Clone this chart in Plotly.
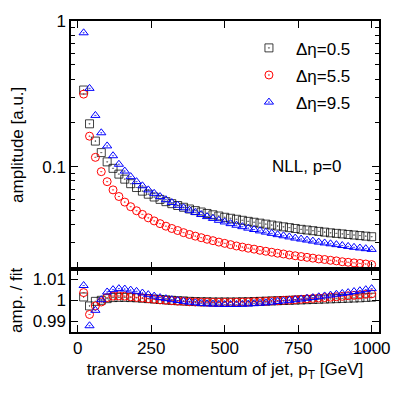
import plotly.graph_objects as go

pt = [20, 40, 60, 80, 100, 120, 140, 160, 180, 200, 220, 240, 260, 280, 300, 320, 340, 360, 380, 400,
      420, 440, 460, 480, 500, 520, 540, 560, 580, 600, 620, 640, 660, 680, 700, 720, 740, 760, 780, 800,
      820, 840, 860, 880, 900, 920, 940, 960, 980, 1000]

amp_05 = [0.336, 0.197, 0.150, 0.125, 0.108, 0.0975, 0.0890, 0.0822, 0.0765, 0.0720,
          0.0680, 0.0648, 0.0620, 0.0597, 0.0576, 0.0558, 0.0542, 0.0527, 0.0513, 0.0500,
          0.0489, 0.0478, 0.0468, 0.0459, 0.0450, 0.0443, 0.0436, 0.0429, 0.0422, 0.0416,
          0.0410, 0.0404, 0.0398, 0.0392, 0.0387, 0.0382, 0.0377, 0.0372, 0.0368, 0.0364,
          0.0360, 0.0356, 0.0352, 0.0349, 0.0346, 0.0343, 0.0340, 0.0337, 0.0334, 0.0331]

amp_55 = [0.315, 0.162, 0.116, 0.0925, 0.079, 0.0694, 0.0625, 0.0572, 0.0532, 0.0499,
          0.0471, 0.0446, 0.0425, 0.0407, 0.0391, 0.0377, 0.0365, 0.0353, 0.0343, 0.0334,
          0.0326, 0.0318, 0.0311, 0.0304, 0.0298, 0.0292, 0.0286, 0.0281, 0.0276, 0.0272,
          0.0267, 0.0263, 0.0259, 0.0255, 0.0252, 0.0248, 0.0245, 0.0242, 0.0239, 0.0236,
          0.0233, 0.0231, 0.0228, 0.0226, 0.0223, 0.0221, 0.0219, 0.0217, 0.0215, 0.0213]

amp_95 = [0.83, 0.345, 0.225, 0.171, 0.139, 0.119, 0.104, 0.0934, 0.0855, 0.0790,
          0.0740, 0.0694, 0.0657, 0.0624, 0.0594, 0.0568, 0.0544, 0.0523, 0.0503, 0.0486,
          0.0470, 0.0455, 0.0442, 0.0429, 0.0418, 0.0407, 0.0397, 0.0388, 0.0379, 0.0371,
          0.0363, 0.0356, 0.0349, 0.0342, 0.0336, 0.0330, 0.0324, 0.0319, 0.0314, 0.0309,
          0.0304, 0.0300, 0.0296, 0.0292, 0.0288, 0.0284, 0.0280, 0.0277, 0.0274, 0.0271]

ratio_05 = [1.0016, 0.9973, 0.9995, 1.0000, 1.0008, 1.0013, 1.0014, 1.0014, 1.0013, 1.0012,
            1.0010, 1.0008, 1.0006, 1.0004, 1.0002, 1.0000, 0.9998, 0.9997, 0.9995, 0.9994,
            0.9993, 0.9993, 0.9992, 0.9992, 0.9992, 0.9992, 0.9992, 0.9993, 0.9993, 0.9994,
            0.9995, 0.9996, 0.9997, 0.9998, 0.9999, 1.0000, 1.0001, 1.0002, 1.0003, 1.0004,
            1.0005, 1.0006, 1.0007, 1.0008, 1.0009, 1.0010, 1.0011, 1.0012, 1.0014, 1.0015]

ratio_55 = [1.0037, 0.9932, 0.9973, 0.9992, 1.0013, 1.0020, 1.0021, 1.0020, 1.0017, 1.0014,
            1.0011, 1.0008, 1.0005, 1.0002, 1.0000, 0.9998, 0.9996, 0.9995, 0.9993, 0.9992,
            0.9991, 0.9991, 0.9990, 0.9990, 0.9990, 0.9990, 0.9991, 0.9991, 0.9992, 0.9993,
            0.9994, 0.9995, 0.9997, 0.9998, 1.0000, 1.0001, 1.0003, 1.0005, 1.0007, 1.0009,
            1.0011, 1.0013, 1.0015, 1.0017, 1.0019, 1.0022, 1.0024, 1.0026, 1.0029, 1.0031]

ratio_95 = [1.0071, 0.9878, 0.9952, 1.0003, 1.0040, 1.0051, 1.0056, 1.0054, 1.0049, 1.0043,
            1.0035, 1.0027, 1.0020, 1.0013, 1.0008, 1.0003, 0.9999, 0.9995, 0.9991, 0.9988,
            0.9985, 0.9983, 0.9982, 0.9981, 0.9980, 0.9980, 0.9980, 0.9981, 0.9982, 0.9984,
            0.9986, 0.9988, 0.9991, 0.9994, 0.9997, 1.0000, 1.0003, 1.0006, 1.0010, 1.0013,
            1.0017, 1.0021, 1.0025, 1.0029, 1.0033, 1.0037, 1.0042, 1.0046, 1.0051, 1.0056]

names = ["Δη=0.5", "Δη=5.5", "Δη=9.5"]
colors = ["rgba(0,0,0,0.75)", "#ff0000", "#0000ff"]
symbols = ["square-open-dot", "circle-open-dot", "triangle-up-open-dot"]
amps = [amp_05, amp_55, amp_95]
ratios = [ratio_05, ratio_55, ratio_95]

x_ticks = [0, 250, 500, 750, 1000]
ratio_ticks = [0.99, 1, 1.01]

FONT = "Liberation Sans, Arial, sans-serif"
FS = 17

fig = go.Figure()
for i in range(3):
    fig.add_trace(go.Scatter(
        x=pt, y=amps[i], mode="markers", name=names[i], legendgroup=names[i],
        marker=dict(symbol=symbols[i], size=8, color=colors[i], line=dict(width=1, color=colors[i])),
        xaxis="x", yaxis="y"))
for i in range(3):
    fig.add_trace(go.Scatter(
        x=pt, y=ratios[i], mode="markers", name=names[i], legendgroup=names[i], showlegend=False,
        marker=dict(symbol=symbols[i], size=8, color=colors[i], line=dict(width=1, color=colors[i])),
        xaxis="x2", yaxis="y2"))

split = 64 / 314
axis_common = dict(showline=True, linecolor="black", linewidth=1.5, mirror="allticks",
                   ticks="inside", tickcolor="black", showgrid=False, zeroline=False,
                   tickfont=dict(family=FONT, size=FS, color="black"))

fig.update_layout(
    width=407, height=398,
    margin=dict(l=71, r=28, t=18, b=66),
    paper_bgcolor="white", plot_bgcolor="white",
    font=dict(family=FONT, size=FS, color="black"),
    xaxis=dict(domain=[0, 1], anchor="y", range=[-23, 1025], tickvals=x_ticks,
               showticklabels=False, ticklen=7, **axis_common),
    yaxis=dict(domain=[split, 1], anchor="x", type="log", range=[-1.699, 0],
               tickvals=[0.1, 1], ticktext=["0.1", "1"], ticklen=7,
               minor=dict(ticks="inside", ticklen=4, tickcolor="black",
                          tickvals=[0.02, 0.03, 0.04, 0.05, 0.06, 0.07, 0.08, 0.09,
                                    0.2, 0.3, 0.4, 0.5, 0.6, 0.7, 0.8, 0.9]),
               title=dict(text="amplitude [a.u.]", font=dict(family=FONT, size=FS), standoff=14),
               **axis_common),
    xaxis2=dict(domain=[0, 1], anchor="y2", range=[-23, 1025], tickvals=x_ticks, ticklen=7,
                title=dict(text="tranverse momentum of jet, p<sub>T</sub> [GeV]",
                           font=dict(family=FONT, size=FS), standoff=6),
                **axis_common),
    yaxis2=dict(domain=[0, split], anchor="x2", range=[0.9848, 1.0152],
                tickvals=ratio_ticks, ticktext=["0.99", "1", "1.01"], ticklen=7,
                title=dict(text="amp. / fit", font=dict(family=FONT, size=FS), standoff=6),
                **axis_common),
    legend=dict(x=0.555, y=0.97, xanchor="left", yanchor="top", bgcolor="rgba(0,0,0,0)",
                font=dict(family=FONT, size=FS), tracegroupgap=2, itemwidth=44),
    annotations=[dict(text="NLL, p=0", x=0.763, y=0.532, xref="paper", yref="paper",
                      xanchor="center", yanchor="middle",
                      showarrow=False, font=dict(family=FONT, size=FS))],
)

fig.write_html("out.html", config={"displayModeBar": False},
               post_script="document.body.style.margin='0';")
